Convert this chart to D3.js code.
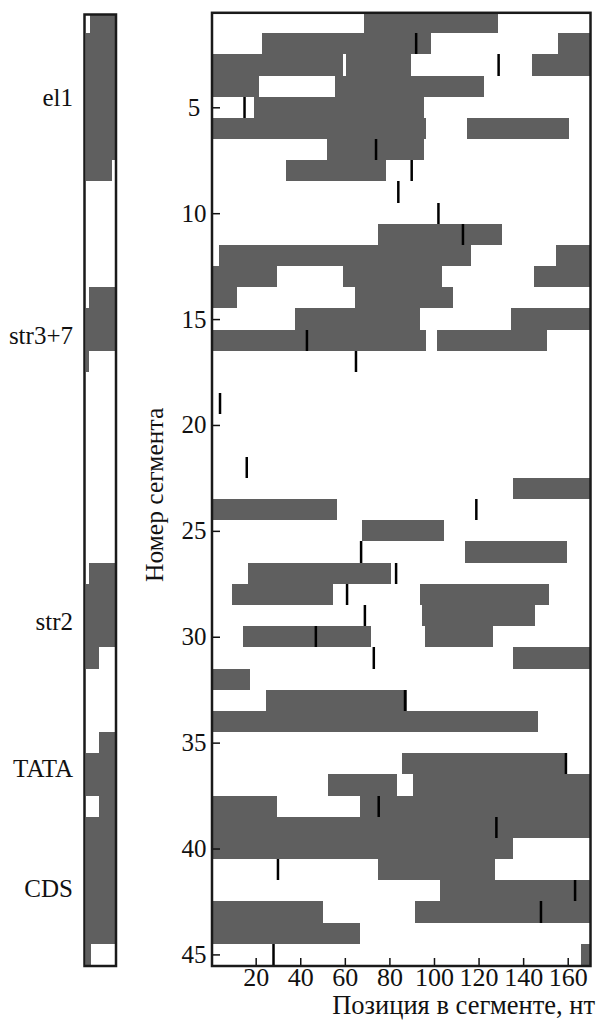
<!DOCTYPE html>
<html>
<head>
<meta charset="utf-8">
<script src="https://cdn.jsdelivr.net/npm/d3@7"></script>
<style>
  body { margin: 0; background: #fff; }
  svg text { font-family: "Liberation Serif", "Times New Roman", serif; fill: #111; }
</style>
</head>
<body>
<div id="chart"></div>
<script>
// Segment intervals (row number, start nt, end nt)
var barRows   = [1, 2, 2, 3, 3, 3, 4, 4, 5, 6, 6, 7, 8, 11, 12, 12, 13, 13, 13, 14, 14, 15, 15, 16, 16,
                 23, 24, 25, 26, 27, 28, 28, 29, 30, 30, 31, 32, 33, 34, 36, 37, 37, 38, 38, 39, 40, 41, 42, 43, 43, 44, 45];
var barStarts = [68.6, 22.8, 155.8, 0, 60.5, 143.9, 0, 55.5, 19.3, 0, 114.7, 51.9, 33.8, 74.9, 3.5, 154.8, 0, 59, 144.7, 0, 64.7, 37.5, 134.7, 0, 101.5,
                 135.6, 0, 67.7, 113.9, 16.7, 9.4, 93.7, 94.5, 14.5, 96, 135.6, 0, 24.5, 0, 85.8, 52.6, 90.5, 0, 66.9, 0, 0, 75, 102.7, 0, 91.6, 0, 166];
var barEnds   = [128.6, 98.5, 170, 59, 89.6, 170, 21.4, 122.6, 95.5, 96.4, 160.6, 95.5, 78.3, 130.4, 116.5, 170, 29.4, 103.7, 170, 11.5, 108.7, 93.6, 170, 96.6, 150.6,
                 170, 56.5, 104.5, 159.8, 80.6, 54.7, 151.8, 145.5, 71.8, 126.6, 170, 17.6, 87.8, 146.8, 159.2, 83.6, 170, 29.4, 170, 170, 135.3, 127.5, 170, 50.4, 170, 66.8, 170];

// Black marks (row number, position nt)
var markRows = [2, 3, 5, 7, 8, 9, 10, 11, 16, 17, 19, 22, 24, 26, 27, 28, 29, 30, 31, 33, 36, 38, 39, 41, 42, 43, 45];
var markPos  = [92, 129, 15, 74, 90, 84, 102, 113, 43, 65, 4, 16, 119, 67.3, 83, 61, 69, 47, 73, 87, 159.2, 75.2, 128, 30, 163.3, 148, 28];

// Left track (row from, row to, start, end as share of track width)
var trackFrom   = [1, 2, 8, 14, 15, 17, 27, 28, 31, 35, 36, 38, 39, 45];
var trackTo     = [1, 7, 8, 14, 16, 17, 27, 30, 31, 35, 37, 38, 44, 45];
var trackStarts = [0.16, 0, 0, 0.13, 0, 0, 0.11, 0, 0, 0.44, 0, 0.44, 0, 0];
var trackEnds   = [1, 1, 0.89, 1, 1, 0.1, 1, 1, 0.44, 1, 1, 1, 1, 0.19];

var regionNames = ["el1", "str3+7", "str2", "TATA", "CDS"];
var regionRows  = [4.55, 15.8, 29.3, 36.25, 41.9];

var xTicks = [20, 40, 60, 80, 100, 120, 140, 160];
var yTicks = [5, 10, 15, 20, 25, 30, 35, 40, 45];

var W = 597, H = 1025;
var GRAY = "#5f5f5f";

var svg = d3.select("#chart").append("svg")
  .attr("width", W)
  .attr("height", H);

var x = d3.scaleLinear().domain([0, 170]).range([211.1, 590]);
var y = d3.scaleLinear().domain([0.5, 45.5]).range([12, 965]);
var tx = d3.scaleLinear().domain([0, 1]).range([85.5, 115.5]);

// row edges snapped to whole pixels so stacked rows merge
function rowTop(r){ return Math.round(y(r - 0.5)); }
function rowBottom(r){ return Math.round(y(r + 0.5)); }

// main panel
var defs = svg.append("defs");
defs.append("clipPath").attr("id", "mainclip")
  .append("rect").attr("x", 212).attr("y", 12.8).attr("width", 378.5).attr("height", 953.2);
defs.append("clipPath").attr("id", "trackclip")
  .append("rect").attr("x", 84.5).attr("y", 14.5).attr("width", 31.5).attr("height", 951.5);

var main = svg.append("g").attr("clip-path", "url(#mainclip)");

main.selectAll(".bar")
  .data(barRows)
  .enter()
  .append("rect")
  .attr("class", "bar")
  .attr("x", function(d, i){ return x(barStarts[i]); })
  .attr("width", function(d, i){ return x(barEnds[i]) - x(barStarts[i]); })
  .attr("y", function(d){ return rowTop(d); })
  .attr("height", function(d){ return rowBottom(d) - rowTop(d); })
  .attr("shape-rendering", "crispEdges")
  .style("fill", GRAY);

main.selectAll(".mark")
  .data(markRows)
  .enter()
  .append("line")
  .attr("class", "mark")
  .attr("x1", function(d, i){ return x(markPos[i]); })
  .attr("x2", function(d, i){ return x(markPos[i]); })
  .attr("y1", function(d){ return rowTop(d); })
  .attr("y2", function(d){ return rowBottom(d); })
  .style("stroke", "#000")
  .style("stroke-width", 2.5);

// axes
var yAxis = svg.append("g")
  .attr("transform", "translate(212,0)")
  .call(d3.axisLeft(y).tickValues(yTicks).tickSizeInner(-8).tickSizeOuter(0).tickPadding(0));
yAxis.select(".domain").remove();
yAxis.selectAll("line").style("stroke", "#111").style("stroke-width", 1.5);
yAxis.selectAll("text")
  .attr("x", -18)
  .attr("text-anchor", "middle")
  .style("font-size", "25px")
  .style("font-family", "Liberation Serif");

var xAxis = svg.append("g")
  .attr("transform", "translate(0,966)")
  .call(d3.axisBottom(x).tickValues(xTicks).tickSizeInner(-8).tickSizeOuter(0).tickPadding(2));
xAxis.select(".domain").remove();
xAxis.selectAll("line").style("stroke", "#111").style("stroke-width", 1.5);
xAxis.selectAll("text")
  .style("font-size", "26px")
  .style("font-family", "Liberation Serif");

svg.append("rect")
  .attr("x", 212).attr("y", 12.8)
  .attr("width", 378.5).attr("height", 953.2)
  .style("fill", "none")
  .style("stroke", "#1a1a1a")
  .style("stroke-width", 2.5);

svg.append("text")
  .attr("x", 595).attr("y", 1014)
  .attr("text-anchor", "end")
  .style("font-size", "26.5px")
  .text("Позиция в сегменте, нт");

svg.append("text")
  .attr("transform", "translate(163," + y(23.3) + ") rotate(-90)")
  .attr("text-anchor", "middle")
  .style("font-size", "25.5px")
  .text("Номер сегмента");

// left track
var track = svg.append("g").attr("clip-path", "url(#trackclip)");
track.selectAll(".seg")
  .data(trackFrom)
  .enter()
  .append("rect")
  .attr("class", "seg")
  .attr("x", function(d, i){ return tx(trackStarts[i]); })
  .attr("width", function(d, i){ return tx(trackEnds[i]) - tx(trackStarts[i]); })
  .attr("y", function(d){ return rowTop(d); })
  .attr("height", function(d, i){ return rowBottom(trackTo[i]) - rowTop(d); })
  .attr("shape-rendering", "crispEdges")
  .style("fill", GRAY);

svg.append("rect")
  .attr("x", 84.5).attr("y", 14.5)
  .attr("width", 31.5).attr("height", 951.5)
  .style("fill", "none")
  .style("stroke", "#1a1a1a")
  .style("stroke-width", 2.5);

svg.selectAll(".region")
  .data(regionNames)
  .enter()
  .append("text")
  .attr("class", "region")
  .attr("x", 73)
  .attr("y", function(d, i){ return y(regionRows[i]); })
  .attr("dy", "0.33em")
  .attr("text-anchor", "end")
  .style("font-size", "25px")
  .text(function(d){ return d; });
</script>
</body>
</html>
